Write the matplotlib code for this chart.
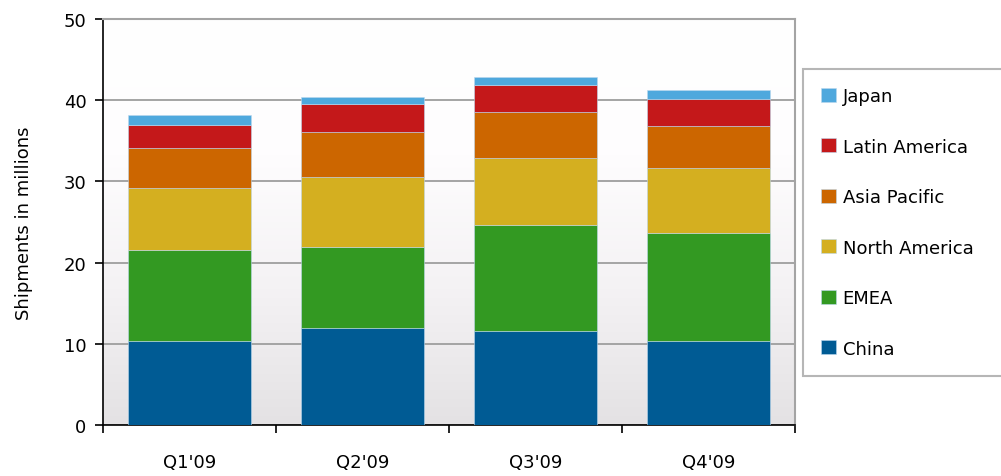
import numpy as np
import matplotlib
matplotlib.use("Agg")
import matplotlib.pyplot as plt
from matplotlib.colors import LinearSegmentedColormap

plt.rcParams['font.family'] = ['DejaVu Sans']

quarters = ["Q1'09", "Q2'09", "Q3'09", "Q4'09"]
regions = ["China", "EMEA", "North America", "Asia Pacific", "Latin America", "Japan"]
china = [10.4, 11.9, 11.6, 10.4]
emea = [11.2, 10.0, 13.0, 13.2]
north_america = [7.6, 8.6, 8.3, 8.1]
asia_pacific = [4.9, 5.6, 5.6, 5.1]
latin_america = [2.9, 3.4, 3.4, 3.4]
japan = [1.2, 0.9, 1.0, 1.0]
colors = ["#005b94", "#339922", "#d4af20", "#cc6600", "#c4181a", "#4fa8dd"]

series = [china, emea, north_america, asia_pacific, latin_america, japan]

fig = plt.figure(figsize=(10.01, 4.77), dpi=100)
ax = fig.add_axes([103 / 1001, 51 / 477, 692 / 1001, 406 / 477])

# background gradient, white at top to light grey at bottom
grad = np.linspace(0, 1, 256).reshape(-1, 1)
cmap = LinearSegmentedColormap.from_list("bg", ["#e4e2e4", "#f4f2f4", "#fefdfe", "#ffffff"])
ax.imshow(grad, aspect="auto", cmap=cmap, origin="lower",
          extent=[0, 1, 0, 1], transform=ax.transAxes, zorder=0)

x = np.arange(len(quarters))
bottom = np.zeros(len(quarters))
handles = []
for name, vals, c in zip(regions, series, colors):
    b = ax.bar(x, vals, width=0.71, bottom=bottom, color=c, label=name,
               edgecolor="#bcd8ee", linewidth=0.4, zorder=3)
    handles.append(b)
    bottom += np.array(vals)

ax.set_xlim(-0.5, 3.5)
ax.set_ylim(0, 50)
ax.set_yticks(range(0, 51, 10))
ax.yaxis.grid(True, color="#a4a4a4", linewidth=1.4, zorder=1)
ax.set_axisbelow(True)

ax.set_xticks(x)
ax.set_xticklabels(quarters, fontsize=13)
ax.set_xticks(np.arange(-0.5, 4, 1), minor=True)
ax.tick_params(axis="x", which="major", length=0, pad=20)
ax.tick_params(axis="x", which="minor", length=6, width=1.2, color="black")
ax.tick_params(axis="y", length=6, width=1.2, labelsize=13, pad=6)

ax.spines["left"].set_color("black")
ax.spines["bottom"].set_color("black")
ax.spines["left"].set_linewidth(1.2)
ax.spines["bottom"].set_linewidth(1.2)
ax.spines["top"].set_color("#a4a4a4")
ax.spines["right"].set_color("#a4a4a4")
ax.spines["top"].set_linewidth(1.5)
ax.spines["right"].set_linewidth(1.5)

ax.set_ylabel("Shipments in millions", fontsize=13, labelpad=22)

# legend box runs past the right edge, as in the original
leg = fig.legend(handles[::-1], regions[::-1], loc="upper left",
                 bbox_to_anchor=(803 / 1001, 1 - 70 / 477, 215 / 1001, 0),
                 mode="expand", fontsize=13,
                 frameon=True, fancybox=False, labelspacing=1.8,
                 handlelength=0.8, handleheight=0.8, handletextpad=0.4,
                 borderpad=1.0, borderaxespad=0)
leg.get_frame().set_edgecolor("#a4a4a4")
leg.get_frame().set_linewidth(1.5)

fig.savefig("out.png", dpi=100)
